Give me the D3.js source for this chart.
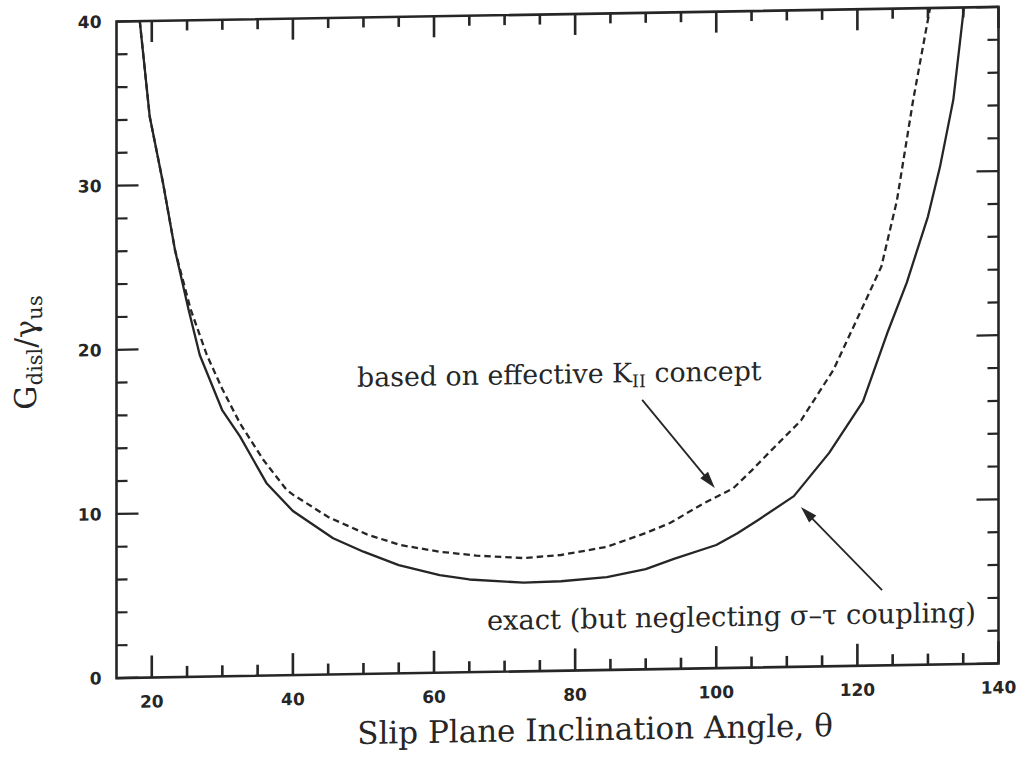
<!DOCTYPE html>
<html>
<head>
<meta charset="utf-8">
<script src="https://cdn.jsdelivr.net/npm/d3@7"></script>
<style>
  html, body { margin: 0; padding: 0; background: #fff; }
  svg { display: block; }
</style>
</head>
<body>
<div id="chart"></div>
<script>
// ---- data ----
const thetaExact = [18.3, 19.7, 21.6, 23.3, 25.2, 26.8, 30, 32.5, 34.4, 36.3, 40, 45.7, 50, 55, 60.8, 65, 72.7, 78, 84.5, 90, 94, 100, 103, 106, 111, 116, 120.8, 124.2, 127, 130, 131.7, 133.6, 135.1];
const gExact     = [40, 34.2, 30.1, 26.0, 22.4, 19.6, 16.2, 14.6, 13.15, 11.7, 10.0, 8.3, 7.45, 6.6, 5.95, 5.65, 5.4, 5.45, 5.65, 6.1, 6.7, 7.5, 8.2, 9.0, 10.4, 13.0, 16.1, 20.2, 23.3, 27.3, 30.3, 34.4, 40];

const thetaEff = [18.3, 19.7, 21.6, 23.3, 25.5, 27.8, 30, 32.5, 35.8, 39.1, 40, 45, 50.5, 55.2, 60.8, 66, 72.7, 78, 84.5, 90, 93.5, 98, 102.4, 105, 107.3, 112, 116.6, 120.8, 123.4, 125.6, 127.9, 130.3];
const gEff     = [40, 34.2, 30.1, 26.0, 22.4, 19.6, 17.5, 15.4, 13.15, 11.3, 11.0, 9.6, 8.5, 7.82, 7.37, 7.1, 6.9, 7.05, 7.5, 8.3, 8.9, 10.0, 10.94, 12.0, 13.0, 15.0, 18.05, 21.9, 24.3, 28.3, 34.4, 40];

const xMajorTicks = [20, 40, 60, 80, 100, 120, 140];
const xMinorTicks = [25, 30, 35, 45, 50, 55, 65, 70, 75, 85, 90, 95, 105, 110, 115, 125, 130, 135];
const yMajorTicks = [0, 10, 20, 30, 40];
const yMinorTicks = [2, 4, 6, 8, 12, 14, 16, 18, 22, 24, 26, 28, 32, 34, 36, 38];

const xDomain = [15, 140];
const yDomain = [0, 40];

// annotation anchors in data units [theta, G]
const labelEff = { text: "based on effective K", sub: "II", tail: " concept", at: [49.1, 17.5] };
const labelExact = { text: "exact (but neglecting σ–τ coupling)", at: [67.5, 2.55] };
const arrowEff = { from: [89.5, 16.42], to: [99.8, 10.97] };
const arrowExact = { from: [123.5, 4.59], to: [112.0, 9.73] };

// ---- drawing ----
const W = 1020, H = 758;
const ink = "#262626";
const SKEW = -0.95; // degrees, the scanned original is slightly tilted
const tanS = Math.tan(SKEW * Math.PI / 180);
const svg = d3.select("#chart").append("svg").attr("width", W).attr("height", H);
svg.append("rect").attr("width", W).attr("height", H).attr("fill", "#fff");

const root = svg.append("g").attr("transform", `skewY(${SKEW})`);

const xs = d3.scaleLinear().domain(xDomain).range([116.5, 998.5]);
const ys = d3.scaleLinear().domain(yDomain).range([680, 23.5]);
const [X0, X1] = xs.range();
const [Y0, Y1] = ys.range();

const tickFont = "'DejaVu Sans', sans-serif";
const serif = "'DejaVu Serif', serif";

// frame
root.append("rect").attr("x", X0).attr("y", Y1).attr("width", X1 - X0).attr("height", Y0 - Y1)
  .attr("fill", "none").attr("stroke", ink).attr("stroke-width", 2.6);

// horizontal ticks on left / right (inward)
function yTicks(vals, len) {
  root.append("g").attr("stroke", ink).attr("stroke-width", 2.2)
    .selectAll("line").data(vals).join("line")
    .attr("x1", X0).attr("x2", X0 + len).attr("y1", d => ys(d)).attr("y2", d => ys(d));
  root.append("g").attr("stroke", ink).attr("stroke-width", 2.2)
    .selectAll("line").data(vals).join("line")
    .attr("x1", X1).attr("x2", X1 - len).attr("y1", d => ys(d)).attr("y2", d => ys(d));
}
yTicks(yMajorTicks, 22);
yTicks(yMinorTicks, 11);

// vertical ticks on bottom / top (inward), drawn untransformed with the tilt applied by hand
function xTicks(vals, lenB, lenT) {
  const gB = svg.append("g").attr("fill", ink);
  gB.selectAll("rect").data(vals).join("rect")
    .attr("x", d => xs(d) - 1.3).attr("width", 2.6)
    .attr("y", d => Y0 - lenB + tanS * xs(d)).attr("height", lenB);
  const gT = svg.append("g").attr("fill", ink);
  gT.selectAll("rect").data(vals).join("rect")
    .attr("x", d => xs(d) - 1.3).attr("width", 2.6)
    .attr("y", d => Y1 + tanS * xs(d)).attr("height", lenT);
}
xTicks(xMajorTicks, 22, 21);
xTicks(xMinorTicks, 11, 10);

// tick labels
root.append("g").selectAll("text").data(xMajorTicks).join("text")
  .attr("x", d => xs(d)).attr("y", Y0 + 30)
  .attr("text-anchor", "middle")
  .attr("font-family", tickFont).attr("font-weight", "bold").attr("font-size", 17).attr("fill", ink)
  .text(d => d);
root.append("g").selectAll("text").data(yMajorTicks).join("text")
  .attr("x", X0 - 15).attr("y", d => ys(d)).attr("dy", "0.36em")
  .attr("text-anchor", "end")
  .attr("font-family", tickFont).attr("font-weight", "bold").attr("font-size", 17).attr("fill", ink)
  .text(d => d);

// curves
root.append("clipPath").attr("id", "plotclip").append("rect")
  .attr("x", X0).attr("y", Y1).attr("width", X1 - X0).attr("height", Y0 - Y1);

const line = d3.line().x(d => xs(d[0])).y(d => ys(d[1])).curve(d3.curveLinear);
const exactData = thetaExact.map((t, i) => [t, gExact[i]]);
const effData = thetaEff.map((t, i) => [t, gEff[i]]);

const curves = root.append("g").attr("clip-path", "url(#plotclip)");
curves.append("path").datum(exactData).attr("d", line)
  .attr("fill", "none").attr("stroke", ink).attr("stroke-width", 2.3).attr("stroke-linejoin", "round");
curves.append("path").datum(effData).attr("d", line)
  .attr("fill", "none").attr("stroke", ink).attr("stroke-width", 2.3)
  .attr("stroke-dasharray", "6.5,4");

// annotations
const t1 = root.append("text").attr("x", xs(labelEff.at[0])).attr("y", ys(labelEff.at[1]))
  .attr("font-family", serif).attr("font-size", 26.8).attr("fill", ink);
t1.append("tspan").text(labelEff.text);
t1.append("tspan").attr("font-size", 17.5).attr("dy", 5).text(labelEff.sub);
t1.append("tspan").attr("dy", -5).text(labelEff.tail);

root.append("text").attr("x", xs(labelExact.at[0])).attr("y", ys(labelExact.at[1]))
  .attr("font-family", serif).attr("font-size", 27.3).attr("fill", ink)
  .text(labelExact.text);

function arrow(a) {
  const p0 = [xs(a.from[0]), ys(a.from[1])];
  const p1 = [xs(a.to[0]), ys(a.to[1])];
  const dx = p1[0] - p0[0], dy = p1[1] - p0[1];
  const L = Math.hypot(dx, dy);
  const ux = dx / L, uy = dy / L;
  const hl = 17, hw = 5;
  const bx = p1[0] - ux * hl, by = p1[1] - uy * hl;
  root.append("line").attr("x1", p0[0]).attr("y1", p0[1]).attr("x2", bx + ux * 2).attr("y2", by + uy * 2)
    .attr("stroke", ink).attr("stroke-width", 1.8);
  root.append("path")
    .attr("d", `M${p1[0]},${p1[1]}L${bx - uy * hw},${by + ux * hw}L${bx + uy * hw},${by - ux * hw}Z`)
    .attr("fill", ink);
}
arrow(arrowEff);
arrow(arrowExact);

// axis titles
root.append("text").attr("x", 595).attr("y", 750)
  .attr("text-anchor", "middle").attr("font-family", serif).attr("font-size", 31).attr("fill", ink)
  .text("Slip Plane Inclination Angle, θ");

const yt = root.append("text").attr("transform", "translate(36,353) rotate(-90)")
  .attr("text-anchor", "middle").attr("font-family", serif).attr("font-size", 30).attr("fill", ink);
yt.append("tspan").text("G");
yt.append("tspan").attr("font-size", 21).attr("dy", 6).text("disl");
yt.append("tspan").attr("dy", -6).text("/γ");
yt.append("tspan").attr("font-size", 21).attr("dy", 6).text("us");
</script>
</body>
</html>
